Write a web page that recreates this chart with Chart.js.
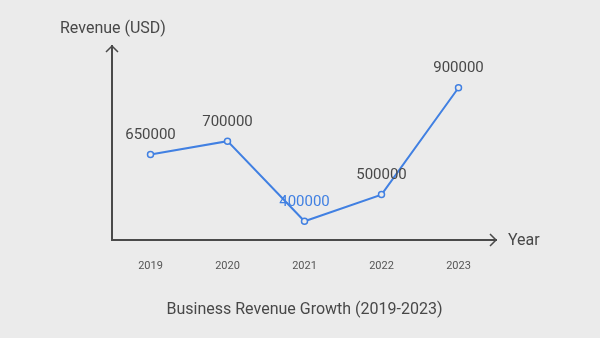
<!DOCTYPE html>
<html lang="en">
<head>
    <meta charset="UTF-8">
    <title>Business Revenue Growth</title>
    <script src="https://cdn.jsdelivr.net/npm/chart.js"></script>
    <style>
        html, body { margin: 0; padding: 0; background: #ebebeb; }
        #wrap { width: 600px; height: 338px; }
    </style>
</head>
<body>
    <div id="wrap"><canvas id="revenueChart" width="600" height="338"></canvas></div>

    <script>
        const years = ['2019', '2020', '2021', '2022', '2023'];
        const revenue = [650000, 700000, 400000, 500000, 900000];
        const yRange = [330000, 1060000];

        const lineColor = '#4180e2';
        const inkColor = '#484848';

        // axes with arrow heads, axis titles and point labels
        const decorations = {
            id: 'decorations',
            beforeDraw(chart) {
                const ctx = chart.ctx;
                ctx.save();
                ctx.fillStyle = '#ebebeb';
                ctx.fillRect(0, 0, chart.width, chart.height);
                ctx.restore();
            },
            beforeDatasetsDraw(chart) {
                const { ctx, chartArea: a } = chart;
                ctx.save();
                ctx.strokeStyle = '#4a4a4a';
                ctx.lineWidth = 2;
                ctx.beginPath();
                ctx.moveTo(a.left, a.top);
                ctx.lineTo(a.left, a.bottom);
                ctx.lineTo(a.right, a.bottom);
                ctx.stroke();
                ctx.lineWidth = 1.5;
                ctx.beginPath();
                ctx.moveTo(a.left - 6, a.top + 7);
                ctx.lineTo(a.left, a.top + 1);
                ctx.lineTo(a.left + 6, a.top + 7);
                ctx.moveTo(a.right - 7, a.bottom - 6);
                ctx.lineTo(a.right - 1, a.bottom);
                ctx.lineTo(a.right - 7, a.bottom + 6);
                ctx.stroke();

                ctx.fillStyle = inkColor;
                ctx.font = '16px Roboto';
                ctx.textBaseline = 'middle';
                ctx.textAlign = 'left';
                ctx.fillText('Revenue (USD)', 60, 29);
                ctx.fillText('Year', a.right + 11, a.bottom + 1);
                ctx.restore();
            },
            afterDatasetsDraw(chart) {
                const { ctx } = chart;
                const pts = chart.getDatasetMeta(0).data;
                const low = Math.min(...revenue);
                ctx.save();
                ctx.font = '15px Roboto';
                ctx.textAlign = 'center';
                ctx.textBaseline = 'middle';
                pts.forEach((p, i) => {
                    ctx.fillStyle = revenue[i] === low ? lineColor : inkColor;
                    ctx.fillText(String(revenue[i]), p.x, p.y - 19);
                });
                ctx.restore();
            }
        };

        new Chart(document.getElementById('revenueChart'), {
            type: 'line',
            data: {
                labels: years,
                datasets: [{
                    label: 'Revenue',
                    data: revenue,
                    borderColor: lineColor,
                    borderWidth: 2,
                    backgroundColor: '#ebebeb',
                    pointRadius: 3,
                    pointBorderWidth: 1.5,
                    pointBorderColor: lineColor,
                    pointBackgroundColor: '#ebebeb',
                    tension: 0
                }]
            },
            options: {
                responsive: false,
                animation: false,
                layout: { padding: { left: 112, right: 103, top: 45, bottom: 8.4 } },
                scales: {
                    x: {
                        offset: true,
                        grid: { display: false, drawTicks: false },
                        border: { display: false },
                        ticks: { color: '#555', font: { family: 'Roboto', size: 11 }, padding: 20 },
                        afterFit(scale) { scale.height = 50.4; }
                    },
                    y: {
                        display: false,
                        min: yRange[0],
                        max: yRange[1]
                    }
                },
                plugins: {
                    legend: { display: false },
                    tooltip: { enabled: false },
                    title: {
                        display: true,
                        position: 'bottom',
                        text: 'Business Revenue Growth (2019-2023)',
                        color: inkColor,
                        font: { family: 'Roboto', size: 16, weight: 'normal', lineHeight: 1.2 },
                        padding: { top: 10, bottom: 10 }
                    }
                }
            },
            plugins: [decorations]
        });
    </script>
</body>
</html>
